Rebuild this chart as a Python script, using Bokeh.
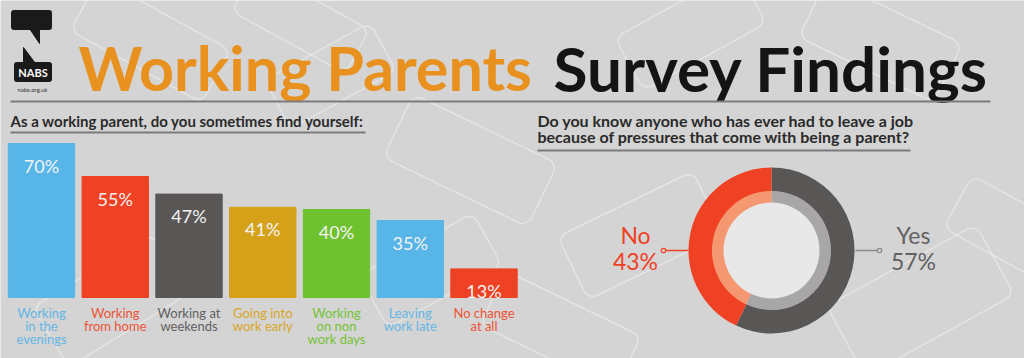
from bokeh.plotting import figure
from bokeh.models import Range1d, ColumnDataSource
from bokeh.core.properties import value
from bokeh.embed import file_html
from bokeh.resources import INLINE
import math

# ---------------- data ----------------
title_left = "Working Parents"
title_right = "Survey Findings"
bar_question = "As a working parent, do you sometimes find yourself:"
categories = ["Working\nin the\nevenings", "Working\nfrom home", "Working at\nweekends",
              "Going into\nwork early", "Working\non non\nwork days", "Leaving\nwork late",
              "No change\nat all"]
percentages = [70, 55, 47, 41, 40, 35, 13]
bar_colors = ["#58B5E8", "#EF4123", "#595756", "#D4A119", "#6DC22E", "#58B5E8", "#EF4123"]
label_colors = ["#64B6E4", "#EE5334", "#5F5F5F", "#D9A61F", "#74C335", "#64B6E4", "#EE5334"]

donut_question = ["Do you know anyone who has ever had to leave a job",
                  "because of pressures that come with being a parent?"]
donut_labels = ["Yes", "No"]
donut_values = [57, 43]
donut_outer_colors = ["#595756", "#EF4123"]
donut_inner_colors = ["#A8A6A6", "#F59872"]
donut_text_colors = ["#626262", "#EF4123"]

FONT = "Lato"
W, H = 1024, 358
BG = "#D4D4D4"


def Y(t):
    return H - t


p = figure(width=W, height=H, x_range=Range1d(0, W), y_range=Range1d(0, H),
           output_backend="svg", toolbar_location=None,
           x_axis_location=None, y_axis_location=None, min_border=0,
           background_fill_color=BG, border_fill_color=BG, outline_line_color=None)
p.xgrid.grid_line_color = None
p.ygrid.grid_line_color = None

# bar scales: index -> x, percent -> y
BAR_X0, BAR_PITCH = 41, 73.75
BASE, PX_PER_PCT = 61, 2.2
p.extra_x_ranges = {"idx": Range1d(-BAR_X0 / BAR_PITCH, (W - BAR_X0) / BAR_PITCH)}
p.extra_y_ranges = {"pct": Range1d(-BASE / PX_PER_PCT, (H - BASE) / PX_PER_PCT)}

# ---------------- background decoration ----------------
deco = dict(x=[150, 330, 470, 690, 880, 110, 640, 560, 920, 1010, 430, 300],
            y=[Y(40), Y(75), Y(160), Y(30), Y(40), Y(300), Y(235), Y(330), Y(300), Y(230), Y(270), Y(20)],
            w=[150, 120, 160, 140, 150, 140, 150, 150, 170, 120, 130, 130],
            h=[60, 55, 70, 60, 65, 70, 70, 60, 80, 60, 60, 50],
            a=[-0.5, 0.5, -0.45, 0.5, -0.45, 0.55, 0.45, -0.45, 0.5, -0.5, 0.5, -0.5])
p.rect(x="x", y="y", width="w", height="h", angle="a", source=ColumnDataSource(deco),
       fill_color=None, line_color="white", line_alpha=0.38, line_width=1.5, border_radius=10)

# ---------------- logo ----------------
p.quad(left=11, right=51, top=Y(10), bottom=Y(29), color="#1A1A1A", border_radius=2)
p.patch([29, 39, 39], [Y(28), Y(28), Y(43)], color="#1A1A1A")
p.quad(left=14, right=51, top=Y(62), bottom=Y(81), color="#1A1A1A", border_radius=2)
p.patch([23, 23, 35], [Y(47), Y(63), Y(63)], color="#1A1A1A")
p.text(x=32.5, y=Y(72), text=["NABS"], text_align="center", text_baseline="middle",
       text_color="white", text_font=value(FONT), text_font_style="bold", text_font_size="11px")
p.text(x=32, y=Y(89), text=["nabs.org.uk"], text_align="center", text_baseline="middle",
       text_color="#333333", text_font=value(FONT), text_font_size="6px")

# ---------------- title ----------------
p.text(x=78, y=Y(67), text=[title_left], text_align="left", text_baseline="alphabetic",
       text_color="#E8911F", text_font=value(FONT), text_font_style="bold", text_font_size="61px")
p.text(x=988, y=Y(67), text=[title_right], text_align="right", text_baseline="alphabetic",
       text_color="#141414", text_font=value(FONT), text_font_style="bold", text_font_size="62px")

# rules
p.segment(x0=[10, 10, 537], y0=[Y(101), Y(132), Y(150)], x1=[990, 365, 910], y1=[Y(101), Y(132), Y(150)],
          line_color="#7B7B7B", line_width=2)

# ---------------- bar section ----------------
p.text(x=10, y=Y(120), text=[bar_question], text_align="left", text_baseline="middle",
       text_color="#2A2A2A", text_font=value(FONT), text_font_style="bold", text_font_size="15px")

src = ColumnDataSource(dict(
    x=list(range(len(percentages))), top=percentages, color=bar_colors,
    lbl=[f"{v}%" for v in percentages], ly=[v - 10 for v in percentages],
    cat=categories, lcol=label_colors))
p.vbar(x="x", top="top", bottom=0, width=0.9, color="color", source=src,
       x_range_name="idx", y_range_name="pct")
p.text(x="x", y="ly", text="lbl", source=src, x_range_name="idx", y_range_name="pct",
       text_align="center", text_baseline="middle", text_color="#F3F3F3",
       text_font=value(FONT), text_font_size="18px")
p.text(x="x", y=Y(304), text="cat", source=src, x_range_name="idx",
       text_align="center", text_baseline="top", text_color="lcol",
       text_font=value(FONT), text_font_size="13px", text_line_height=0.82)

# ---------------- donut section ----------------
for i, line in enumerate(donut_question):
    p.text(x=537, y=Y(120 + 16 * i), text=[line], text_align="left", text_baseline="middle",
           text_color="#2A2A2A", text_font=value(FONT), text_font_style="bold", text_font_size="16px")

CX, CY = 771, Y(250)
total = sum(donut_values)
cum = [0]
for v in donut_values:
    cum.append(cum[-1] + v)
ends = [math.pi / 2 - 2 * math.pi * c / total for c in cum[:-1]]
starts = [math.pi / 2 - 2 * math.pi * c / total for c in cum[1:]]
dsrc = ColumnDataSource(dict(start=starts, end=ends, outer=donut_outer_colors, inner=donut_inner_colors))
p.annular_wedge(x=CX, y=CY, inner_radius=59, outer_radius=83, start_angle="start", end_angle="end",
                fill_color="outer", line_color=None, source=dsrc)
p.annular_wedge(x=CX, y=CY, inner_radius=47, outer_radius=59.5, start_angle="start", end_angle="end",
                fill_color="inner", line_color=None, source=dsrc)
p.circle(x=CX, y=CY, radius=48, fill_color="#E8E8E8", line_color=None)

# leaders
p.segment(x0=[855, 663], y0=[CY, CY], x1=[879, 688], y1=[CY, CY],
          line_color=["#8A8A8A", "#EF4123"], line_width=1.5)
p.circle(x=[879, 663], y=[CY, CY], radius=2.2, fill_color=BG,
         line_color=["#8A8A8A", "#EF4123"], line_width=1.2)

lab_x = [913, 635]
p.text(x=lab_x, y=[Y(234), Y(234)], text=donut_labels, text_align="center", text_baseline="middle",
       text_color=donut_text_colors, text_font=value(FONT), text_font_size="23px")
p.text(x=lab_x, y=[Y(260), Y(260)], text=[f"{v}%" for v in donut_values], text_align="center",
       text_baseline="middle", text_color=donut_text_colors, text_font=value(FONT), text_font_size="23px")

open("out.html", "w").write(file_html(p, INLINE))
